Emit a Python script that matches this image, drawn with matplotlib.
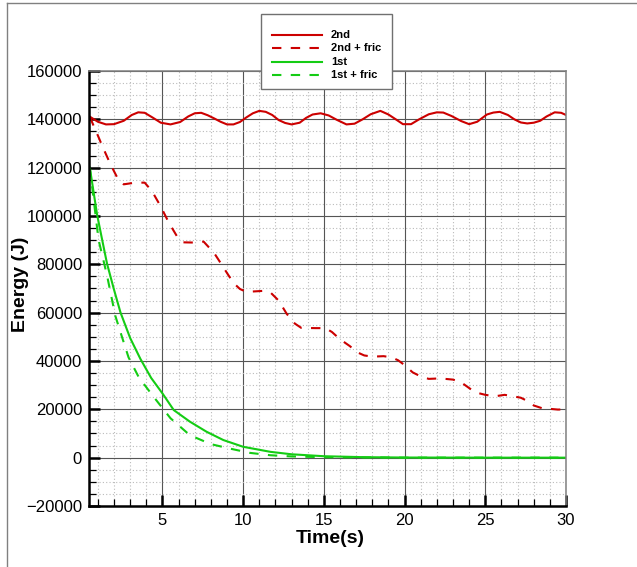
import numpy as np
import matplotlib
matplotlib.use('Agg')
import matplotlib.pyplot as plt
from matplotlib.lines import Line2D
from matplotlib.patches import Rectangle
from matplotlib.ticker import MultipleLocator

plt.rcParams['font.family'] = ['Liberation Sans', 'DejaVu Sans']

# values
t_2nd = [0.5, 1.0, 1.5, 2.0, 2.6, 3.1, 3.5, 3.9, 4.4, 4.9, 5.5, 6.1, 6.6, 7.0, 7.4,
         7.8, 8.2, 8.6, 9.0, 9.4, 9.8, 10.2, 10.6, 11.0, 11.4, 11.8, 12.2, 12.6,
         13.0, 13.5, 13.9, 14.3, 14.8, 15.3, 15.8, 16.4, 16.9, 17.4, 17.9, 18.5,
         19.0, 19.5, 19.9, 20.4, 20.9, 21.5, 22.0, 22.4, 22.9, 23.5, 24.0, 24.5,
         25.1, 25.5, 25.9, 26.4, 26.8, 27.2, 27.6, 28.0, 28.4, 28.8, 29.3, 29.7, 30.0]
e_2nd = [141100, 139000, 137900, 138000, 139400, 141800, 142900, 142700, 140700,
         138600, 137900, 138900, 141200, 142500, 142700, 141700, 140400, 139000,
         137900, 137900, 138900, 140800, 142500, 143500, 143100, 141800, 139700,
         138500, 137900, 138600, 140600, 142000, 142500, 141600, 139800, 137900,
         138200, 140000, 142100, 143500, 142000, 139800, 138000, 138000, 140000,
         142100, 142900, 142800, 141400, 139300, 138000, 139000, 142000, 142800,
         143100, 141800, 140000, 138700, 138300, 138600, 139400, 141200, 142900,
         142700, 141800]

t_2nd_fric = [0.5, 1.05, 1.27, 1.78, 2.2, 2.6, 3.3, 3.9, 4.35, 4.88, 5.4, 5.9, 6.3,
              7.0, 7.55, 8.2, 8.6, 9.0, 9.4, 9.8, 10.2, 11.2, 11.7, 12.2, 12.7, 13.2,
              13.6, 14.5, 15.1, 15.5, 15.9, 16.3, 16.6, 17.1, 17.5, 18.0, 18.7, 19.2,
              19.6, 20.0, 20.5, 21.0, 21.5, 22.2, 23.0, 23.5, 24.0, 24.4, 25.0, 25.6,
              26.2, 26.8, 27.2, 27.6, 28.0, 28.5, 29.0, 29.5, 30.0]
e_2nd_fric = [141000, 132500, 129000, 121400, 115900, 113100, 113800, 113800, 110300,
              104100, 97200, 91600, 89100, 89000, 89400, 84700, 80600, 76400, 72300,
              69800, 68600, 69000, 68300, 65000, 59500, 55500, 53700, 53600, 53600,
              52000, 49600, 47600, 46200, 43500, 42300, 41800, 42000, 41500, 40300,
              38300, 35300, 33600, 32600, 32800, 32300, 31200, 28800, 27000, 26000,
              25400, 26000, 25300, 24800, 23500, 21600, 20500, 20200, 19900, 20000]

t_1st = [0.5, 0.95, 1.3, 1.57, 2.0, 2.4, 3.0, 3.64, 4.3, 5.0, 5.7, 6.7, 7.74, 8.77,
         10.0, 11.7, 13.0, 15.0, 17.5, 20.0, 25.0, 30.0]
e_1st = [120000, 100600, 89000, 80200, 69500, 60100, 49500, 40800, 33000, 26600,
         19700, 14900, 10700, 7300, 4500, 2400, 1400, 600, 200, 60, 0, 0]

t_1st_fric = [0.5, 1.04, 1.57, 2.08, 2.5, 2.9, 3.54, 4.45, 5.5, 6.7, 8.0, 9.15, 10.4,
              11.7, 13.0, 15.0, 20.0, 30.0]
e_1st_fric = [120000, 90200, 75300, 58700, 49800, 41500, 33200, 25200, 16300, 9300,
              5600, 3800, 2000, 1000, 500, 200, 0, 0]

labels = ['2nd', '2nd + fric', '1st', '1st + fric']
x_ticks = [5, 10, 15, 20, 25, 30]
y_ticks = list(range(-20000, 160001, 20000))

red = '#cc0000'
green = '#14cc14'

W, H = 637.0, 567.0
fig = plt.figure(figsize=(W / 100, H / 100), dpi=100)
ax = fig.add_axes([89 / W, 1 - 506 / H, (566 - 89) / W, (506 - 71) / H])

l1, = ax.plot(t_2nd, e_2nd, color=red, lw=1.5)
l2, = ax.plot(t_2nd_fric, e_2nd_fric, color=red, lw=1.5, dashes=(4.5, 4.5))
l3, = ax.plot(t_1st, e_1st, color=green, lw=1.5)
l4, = ax.plot(t_1st_fric, e_1st_fric, color=green, lw=1.5, dashes=(4.5, 4.5))

ax.set_xlim(0.45, 30)
ax.set_ylim(-20000, 160000)
ax.set_xticks(x_ticks)
ax.set_yticks(y_ticks)
ax.xaxis.set_minor_locator(MultipleLocator(1))
ax.yaxis.set_minor_locator(MultipleLocator(5000))

ax.set_axisbelow(True)
ax.grid(which='major', color='#555555', lw=0.8)
ax.grid(which='minor', color='#bbbbbb', lw=0.8, linestyle=(0, (1, 2)))

ax.tick_params(which='both', direction='in', top=False, right=False,
               labelsize=12, color='black')
ax.tick_params(which='major', length=8, width=1.8, pad=5)
ax.tick_params(which='minor', length=5, width=0.9)

for s in ['left', 'bottom']:
    ax.spines[s].set_linewidth(1.8)
    ax.spines[s].set_color('black')
for s in ['top', 'right']:
    ax.spines[s].set_linewidth(1.1)
    ax.spines[s].set_color('#808080')

ax.set_xlabel('Time(s)', fontsize=14, fontweight='bold')
ax.set_ylabel('Energy (J)', fontsize=14, fontweight='bold')
ax.xaxis.set_label_coords(0.505, -0.056)
ax.yaxis.set_label_coords(-0.125, 0.51)

# legend box drawn by hand, sitting over the top of the axes
fig.add_artist(Rectangle((260.5 / W, 1 - 89 / H), 131 / W, 75 / H,
                         transform=fig.transFigure, facecolor='white',
                         edgecolor='#707070', lw=1, zorder=10))
rows = [34.7, 48.3, 62.0, 75.3]
for line, lab, yy in zip([l1, l2, l3, l4], labels, rows):
    h = Line2D([271.7 / W, 321.7 / W], [1 - yy / H, 1 - yy / H],
               transform=fig.transFigure, color=line.get_color(),
               lw=line.get_linewidth(), zorder=11)
    if line.get_linestyle() != '-':
        h.set_dashes((4.5, 4.5))
    fig.add_artist(h)
    fig.text(331 / W, 1 - yy / H, lab, fontsize=8, fontweight='bold',
             va='center', ha='left', zorder=12)

# outer frame
fig.add_artist(Line2D([7 / W, 7 / W], [0, 1 - 3.3 / H], transform=fig.transFigure,
                      color='#808080', lw=1))
fig.add_artist(Line2D([7 / W, 1], [1 - 3.3 / H, 1 - 3.3 / H],
                      transform=fig.transFigure, color='#808080', lw=1))

fig.savefig('out.png', dpi=100)
